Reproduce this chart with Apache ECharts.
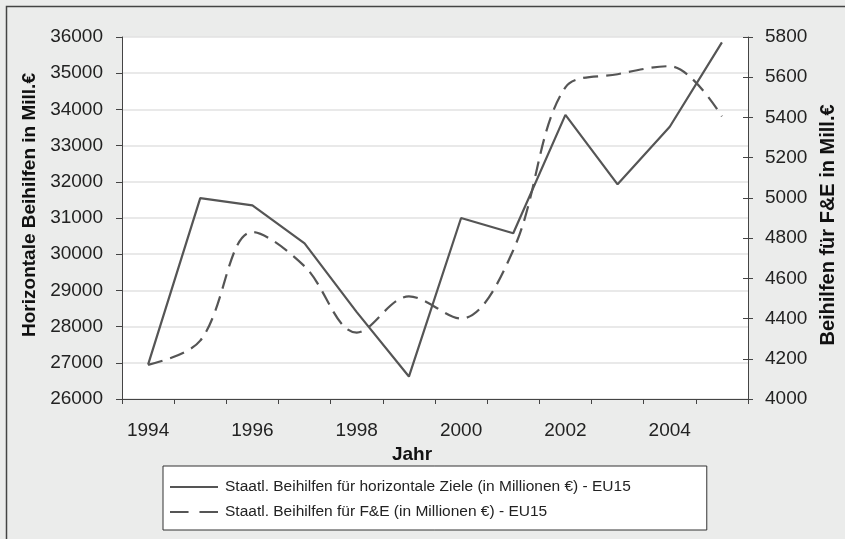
<!DOCTYPE html>
<html>
<head>
<meta charset="utf-8">
<script src="https://cdn.jsdelivr.net/npm/echarts@6/dist/echarts.min.js"></script>
<style>
html,body{margin:0;padding:0;background:#ebeceb;}
#chart{width:845px;height:539px;}
</style>
</head>
<body>
<div id="chart"></div>
<script>
var years = ['1994','1995','1996','1997','1998','1999','2000','2001','2002','2003','2004','2005'];
var horizontal = [26950, 31550, 31350, 30300, 28400, 26620, 31000, 30580, 33850, 31930, 33520, 35850];
var fue = [4170, 4290, 4830, 4660, 4330, 4510, 4400, 4740, 5550, 5615, 5655, 5405];
var nameHorizontal = 'Staatl. Beihilfen für horizontale Ziele (in Millionen €) - EU15';
var nameFuE = 'Staatl. Beihilfen für F&E (in Millionen €) - EU15';

var font = 'Liberation Sans, Arial, sans-serif';
var plain = function (v) { return String(v); };
var chart = echarts.init(document.getElementById('chart'));
chart.setOption({
  backgroundColor: '#ebeceb',
  animation: false,
  textStyle: {fontFamily: font},
  graphic: [{
    type: 'rect', left: 4, top: 4, z: -1,
    shape: {x: 0, y: 0, width: 860, height: 560},
    style: {fill: 'none', stroke: '#444', lineWidth: 1.5}
  }],
  grid: {left: 122, right: 97, top: 37, bottom: 140, containLabel: false, outerBoundsMode: 'none',
         backgroundColor: '#fff', show: true, borderWidth: 0},
  legend: {
    orient: 'vertical', left: 163, top: 466,
    padding: [13, 76, 10, 7],
    itemGap: 9, itemWidth: 48, itemHeight: 14,
    backgroundColor: '#fff', borderColor: '#333', borderWidth: 1,
    textStyle: {fontFamily: font, fontSize: 15.5, color: '#222', padding: [0,0,0,2]},
    data: [
      {name: nameHorizontal, icon: 'path://M0,6h48v2h-48z'},
      {name: nameFuE, icon: 'path://M0,6h17v2h-17zM27,6h17v2h-17z'}
    ],
    itemStyle: {color: '#555'}
  },
  xAxis: {
    type: 'category', data: years, boundaryGap: true,
    name: 'Jahr', nameLocation: 'middle', nameGap: 35,
    nameTextStyle: {fontFamily: font, fontSize: 19, fontWeight: 'bold', color: '#111', padding: [0, 46, 0, 0]},
    axisLine: {lineStyle: {color: '#444', width: 1}},
    axisTick: {show: true, interval: 0, length: 5, lineStyle: {color: '#444'}},
    axisLabel: {interval: 1, margin: 22, fontSize: 19, color: '#222', fontFamily: font}
  },
  yAxis: [{
    type: 'value', min: 26000, max: 36000, interval: 1000, position: 'left',
    name: 'Horizontale Beihilfen in Mill.€', nameLocation: 'middle', nameGap: 82,
    nameRotate: 90,
    nameTextStyle: {fontFamily: font, fontSize: 19, fontWeight: 'bold', color: '#111', padding: [0, 0, 0, 26]},
    axisLine: {show: true, lineStyle: {color: '#444'}},
    axisTick: {show: true, length: 6, lineStyle: {color: '#444'}},
    axisLabel: {margin: 19, fontSize: 19, color: '#222', fontFamily: font, formatter: plain},
    splitLine: {lineStyle: {color: '#e2e2e2', width: 1.5}}
  }, {
    type: 'value', min: 4000, max: 5800, interval: 200, position: 'right',
    name: 'Beihilfen für F&E in Mill.€', nameLocation: 'middle', nameGap: 70,
    nameRotate: 90,
    nameTextStyle: {fontFamily: font, fontSize: 20, fontWeight: 'bold', color: '#111', padding: [0, 14, 0, 0]},
    axisLine: {show: true, lineStyle: {color: '#444'}},
    axisTick: {show: true, inside: false, length: 5, lineStyle: {color: '#444'}},
    axisLabel: {margin: 17, fontSize: 19, color: '#222', fontFamily: font, formatter: plain},
    splitLine: {show: false}
  }, {
    type: 'value', min: 4000, max: 5800, interval: 200, position: 'right',
    axisLine: {show: false},
    axisTick: {show: true, inside: true, length: 5, lineStyle: {color: '#444'}},
    axisLabel: {show: false},
    splitLine: {show: false}
  }],
  series: [{
    name: nameHorizontal, type: 'line', yAxisIndex: 0, data: horizontal,
    showSymbol: false, symbol: 'none',
    lineStyle: {color: '#555', width: 2.2},
    itemStyle: {color: '#555'}
  }, {
    name: nameFuE, type: 'line', yAxisIndex: 1, data: fue,
    showSymbol: false, symbol: 'none', smooth: 0.35,
    lineStyle: {color: '#555', width: 2.2, type: [15, 8]},
    itemStyle: {color: '#555'}
  }]
});
</script>
</body>
</html>
